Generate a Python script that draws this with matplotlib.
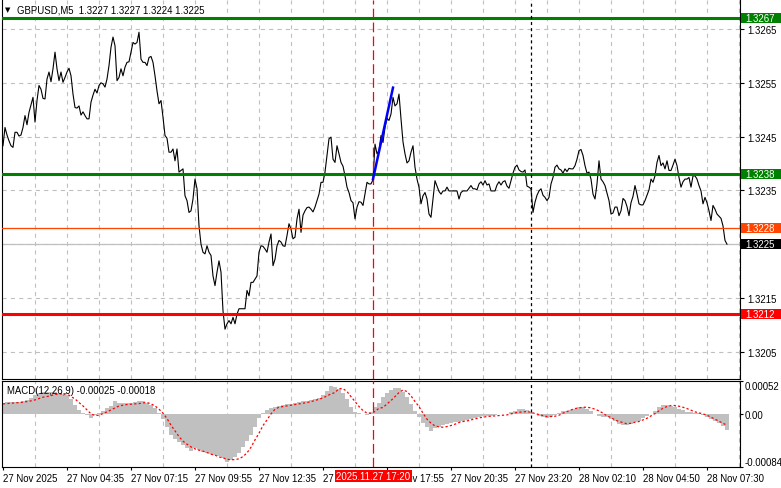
import matplotlib
matplotlib.use("Agg")
import matplotlib.pyplot as plt
from matplotlib.patches import Rectangle
from matplotlib.transforms import blended_transform_factory

plt.rcParams['font.family'] = ['Liberation Sans', 'DejaVu Sans']
plt.rcParams['lines.scale_dashes'] = False

# ---------------- data ----------------
chart_title = "GBPUSD,M5  1.3227 1.3227 1.3224 1.3225"
macd_title = "MACD(12,26,9) -0.00025 -0.00018"

close = [
    1.32433, 1.32467, 1.32453, 1.32442, 1.32433, 1.32430, 1.32458, 1.32458, 1.32451, 1.32453,
    1.32467, 1.32489, 1.32472, 1.32495, 1.32509, 1.32523, 1.32477, 1.32517, 1.32545, 1.32538,
    1.32521, 1.32520, 1.32557, 1.32570, 1.32552, 1.32576, 1.32607, 1.32576, 1.32554, 1.32570,
    1.32551, 1.32560, 1.32570, 1.32577, 1.32563, 1.32529, 1.32504, 1.32503, 1.32507, 1.32490,
    1.32496, 1.32489, 1.32483, 1.32483, 1.32514, 1.32527, 1.32538, 1.32531, 1.32545, 1.32550,
    1.32548, 1.32542, 1.32557, 1.32582, 1.32616, 1.32635, 1.32619, 1.32554, 1.32560, 1.32576,
    1.32563, 1.32579, 1.32588, 1.32589, 1.32607, 1.32625, 1.32622, 1.32625, 1.32644, 1.32594,
    1.32588, 1.32588, 1.32582, 1.32597, 1.32599, 1.32588, 1.32563, 1.32535, 1.32511, 1.32517,
    1.32486, 1.32452, 1.32447, 1.32421, 1.32421, 1.32427, 1.32405, 1.32427, 1.32384, 1.32387,
    1.32390, 1.32340, 1.32331, 1.32309, 1.32312, 1.32334, 1.32371, 1.32353, 1.32284, 1.32250,
    1.32235, 1.32232, 1.32247, 1.32235, 1.32229, 1.32191, 1.32173, 1.32198, 1.32219, 1.32198,
    1.32126, 1.32092, 1.32102, 1.32108, 1.32102, 1.32114, 1.32102, 1.32120, 1.32130, 1.32130,
    1.32130, 1.32130, 1.32164, 1.32154, 1.32179, 1.32179, 1.32185, 1.32191, 1.32235, 1.32247,
    1.32246, 1.32241, 1.32235, 1.32254, 1.32269, 1.32210, 1.32222, 1.32247, 1.32257, 1.32254,
    1.32247, 1.32246, 1.32266, 1.32288, 1.32278, 1.32260, 1.32263, 1.32297, 1.32315, 1.32272,
    1.32304, 1.32312, 1.32318, 1.32319, 1.32315, 1.32310, 1.32319, 1.32331, 1.32343, 1.32365,
    1.32365, 1.32384, 1.32415, 1.32446, 1.32449, 1.32408, 1.32402, 1.32433, 1.32418, 1.32402,
    1.32395, 1.32377, 1.32356, 1.32346, 1.32331, 1.32327, 1.32297, 1.32319, 1.32329, 1.32328,
    1.32322, 1.32343, 1.32365, 1.32362, 1.32362, 1.32370, 1.32436, 1.32418, 1.32424, 1.32452,
    1.32439, 1.32467, 1.32484, 1.32480, 1.32492, 1.32523, 1.32507, 1.32511, 1.32529, 1.32483,
    1.32440, 1.32418, 1.32401, 1.32405, 1.32421, 1.32433, 1.32393, 1.32371, 1.32356, 1.32325,
    1.32340, 1.32346, 1.32334, 1.32306, 1.32300, 1.32334, 1.32368, 1.32358, 1.32348, 1.32343,
    1.32349, 1.32349, 1.32356, 1.32349, 1.32349, 1.32349, 1.32349, 1.32349, 1.32334, 1.32346,
    1.32349, 1.32349, 1.32349, 1.32354, 1.32359, 1.32353, 1.32353, 1.32351, 1.32362, 1.32366,
    1.32360, 1.32368, 1.32360, 1.32362, 1.32349, 1.32349, 1.32349, 1.32360, 1.32366, 1.32360,
    1.32366, 1.32368, 1.32358, 1.32354, 1.32368, 1.32382, 1.32393, 1.32397, 1.32388, 1.32385,
    1.32384, 1.32388, 1.32358, 1.32356, 1.32353, 1.32309, 1.32328, 1.32341, 1.32349, 1.32353,
    1.32341, 1.32337, 1.32331, 1.32337, 1.32362, 1.32374, 1.32393, 1.32397, 1.32390, 1.32388,
    1.32382, 1.32390, 1.32385, 1.32391, 1.32390, 1.32390, 1.32396, 1.32408, 1.32424, 1.32426,
    1.32415, 1.32396, 1.32382, 1.32384, 1.32371, 1.32343, 1.32334, 1.32362, 1.32405, 1.32371,
    1.32366, 1.32359, 1.32345, 1.32331, 1.32306, 1.32308, 1.32319, 1.32319, 1.32303, 1.32312,
    1.32335, 1.32331, 1.32320, 1.32303, 1.32327, 1.32339, 1.32359, 1.32343, 1.32325, 1.32323,
    1.32323, 1.32331, 1.32341, 1.32351, 1.32371, 1.32365, 1.32377, 1.32402, 1.32415, 1.32396,
    1.32401, 1.32390, 1.32405, 1.32387, 1.32387, 1.32397, 1.32408, 1.32396, 1.32374, 1.32356,
    1.32366, 1.32371, 1.32371, 1.32374, 1.32356, 1.32377, 1.32377, 1.32371, 1.32359, 1.32349,
    1.32325, 1.32337, 1.32327, 1.32312, 1.32294, 1.32322, 1.32315, 1.32306, 1.32302, 1.32298,
    1.32284, 1.32257, 1.32250,
]

# MACD values, one reading every 2 bars
macd_step = 2
macd_hist = [
    0.000179, 0.000184, 0.000195, 0.000195, 0.000195, 0.000206, 0.000221, 0.000248, 0.000300, 0.000337,
    0.000353, 0.000353, 0.000353, 0.000343, 0.000327, 0.000316, 0.000295, 0.000232, 0.000142, 0.000063,
    0.000021, -0.000021, -0.000063, -0.000016, 0.000016, 0.000053, 0.000090, 0.000126, 0.000211, 0.000179,
    0.000169, 0.000169, 0.000174, 0.000184, 0.000211, 0.000200, 0.000179, 0.000142, 0.000090, 0.000011,
    -0.000084, -0.000200, -0.000327, -0.000400, -0.000443, -0.000485, -0.000532, -0.000585, -0.000543, -0.000564,
    -0.000596, -0.000622, -0.000638, -0.000653, -0.000669, -0.000701, -0.000754, -0.000733, -0.000675, -0.000611,
    -0.000522, -0.000432, -0.000332, -0.000211, -0.000058, 0.000021, 0.000063, 0.000095, 0.000116, 0.000126,
    0.000142, 0.000158, 0.000163, 0.000174, 0.000190, 0.000200, 0.000211, 0.000221, 0.000237, 0.000248,
    0.000300, 0.000369, 0.000437, 0.000432, 0.000390, 0.000332, 0.000237, 0.000116, 0.000037, 0.000016,
    0.000000, -0.000016, 0.000026, 0.000105, 0.000179, 0.000264, 0.000327, 0.000379, 0.000411, 0.000411,
    0.000353, 0.000274, 0.000158, 0.000053, -0.000053, -0.000137, -0.000211, -0.000264, -0.000227, -0.000200,
    -0.000179, -0.000158, -0.000142, -0.000132, -0.000121, -0.000111, -0.000095, -0.000079, -0.000063, -0.000047,
    -0.000037, -0.000032, -0.000026, -0.000021, -0.000005, 0.000000, 0.000005, 0.000026, 0.000053, 0.000074,
    0.000074, 0.000063, 0.000026, -0.000005, -0.000026, -0.000042, -0.000069, -0.000053, -0.000021, 0.000016,
    0.000042, 0.000053, 0.000069, 0.000084, 0.000111, 0.000111, 0.000084, 0.000042, 0.000000, -0.000026,
    -0.000042, -0.000053, -0.000079, -0.000116, -0.000163, -0.000179, -0.000174, -0.000153, -0.000126, -0.000105,
    -0.000069, -0.000037, 0.000005, 0.000053, 0.000105, 0.000137, 0.000142, 0.000126, 0.000111, 0.000084,
    0.000058, 0.000037, 0.000026, 0.000016, 0.000011, -0.000016, -0.000042, -0.000079, -0.000116, -0.000148,
    -0.000190, -0.000250,
]
macd_signal = [
    0.000158, 0.000163, 0.000169, 0.000174, 0.000179, 0.000184, 0.000195, 0.000206, 0.000221, 0.000242,
    0.000264, 0.000274, 0.000290, 0.000306, 0.000316, 0.000316, 0.000316, 0.000274, 0.000237, 0.000179,
    0.000126, 0.000063, 0.000000, -0.000026, -0.000021, 0.000005, 0.000032, 0.000063, 0.000095, 0.000126,
    0.000137, 0.000148, 0.000153, 0.000158, 0.000163, 0.000174, 0.000179, 0.000158, 0.000126, 0.000074,
    0.000011, -0.000074, -0.000179, -0.000269, -0.000359, -0.000432, -0.000480, -0.000522, -0.000553, -0.000574,
    -0.000590, -0.000611, -0.000638, -0.000653, -0.000680, -0.000696, -0.000717, -0.000727, -0.000722, -0.000711,
    -0.000675, -0.000617, -0.000527, -0.000411, -0.000306, -0.000184, -0.000095, 0.000000, 0.000074, 0.000105,
    0.000116, 0.000126, 0.000137, 0.000148, 0.000158, 0.000169, 0.000179, 0.000195, 0.000211, 0.000232,
    0.000253, 0.000285, 0.000316, 0.000337, 0.000400, 0.000400, 0.000353, 0.000274, 0.000195, 0.000116,
    0.000053, 0.000011, 0.000011, 0.000037, 0.000090, 0.000100, 0.000158, 0.000211, 0.000274, 0.000337,
    0.000379, 0.000353, 0.000285, 0.000195, 0.000116, 0.000011, -0.000084, -0.000148, -0.000190, -0.000206,
    -0.000211, -0.000200, -0.000184, -0.000163, -0.000137, -0.000121, -0.000111, -0.000095, -0.000079, -0.000063,
    -0.000053, -0.000042, -0.000037, -0.000032, -0.000026, -0.000021, -0.000016, 0.000000, 0.000016, 0.000026,
    0.000032, 0.000037, 0.000026, 0.000005, -0.000011, -0.000026, -0.000042, -0.000042, -0.000037, -0.000021,
    0.000011, 0.000037, 0.000063, 0.000084, 0.000095, 0.000105, 0.000105, 0.000095, 0.000074, 0.000047,
    0.000011, -0.000032, -0.000058, -0.000095, -0.000121, -0.000137, -0.000158, -0.000148, -0.000132, -0.000121,
    -0.000095, -0.000069, -0.000032, 0.000005, 0.000047, 0.000090, 0.000116, 0.000132, 0.000132, 0.000121,
    0.000105, 0.000084, 0.000058, 0.000032, 0.000016, 0.000000, -0.000021, -0.000053, -0.000084, -0.000116,
    -0.000148, -0.000180,
]

time_label_bars = [0, 32, 64, 96, 128, 160, 192, 224, 256, 288, 320, 352]
time_labels = ["27 Nov 2025", "27 Nov 04:35", "27 Nov 07:15", "27 Nov 09:55", "27 Nov 12:35",
               "27 Nov 15:15", "27 Nov 17:55", "27 Nov 20:35", "27 Nov 23:20", "28 Nov 02:10",
               "28 Nov 04:50", "28 Nov 07:30"]
price_ticks = [1.3205, 1.3215, 1.3225, 1.3235, 1.3245, 1.3255, 1.3265]
macd_ticks = [-0.00084, 0.0, 0.00052]
macd_tick_labels = ["-0.00084", "0.00", "0.00052"]

cursor_bar = 185
cursor_label = "2025.11.27 17:20"
day_separator_bar = 264
trend_bars = [185, 195]
trend_prices = [1.32371, 1.32541]

level_green_top = 1.3267
level_green_mid = 1.3238
level_orange = 1.3228
level_red = 1.3212
bid_price = 1.3225

# ---------------- layout ----------------
W, H = 781, 489
fig = plt.figure(figsize=(W / 100, H / 100), dpi=100)
fig.patch.set_facecolor('white')


def px_axes(x0, y0, x1, y1):
    return fig.add_axes([x0 / W, 1 - y1 / H, (x1 - x0) / W, (y1 - y0) / H])


ax = px_axes(2, 1, 740, 380)
ax2 = px_axes(2, 382, 740, 468)

GRID = '#c0c0c0'
FS = 6.9
xmin, xmax = -0.5, 368.5
ymin, ymax = 1.319994, 1.327039

for a in (ax, ax2):
    a.set_xlim(xmin, xmax)
    a.set_facecolor('white')
    for s in a.spines.values():
        s.set_color('black')
        s.set_linewidth(0.8)
    a.set_xticks(range(16, 369, 16), minor=True)
    a.grid(which='minor', axis='x', color=GRID, linestyle=(0, (3, 3)), linewidth=0.8)
    a.tick_params(which='minor', length=0)
    a.set_axisbelow(True)

ax.spines['top'].set_visible(False)

# main price panel
ax.set_ylim(ymin, ymax)
ax.yaxis.tick_right()
ax.set_yticks(price_ticks)
ax.set_yticklabels([f"{v:.4f}" if abs(v - bid_price) > 1e-6 else "" for v in price_ticks])
ax.tick_params(axis='y', which='major', length=3, width=0.8, pad=2, labelsize=FS, colors='black')
ax.set_xticks([])
ax.grid(which='major', axis='y', color=GRID, linestyle=(0, (3, 3)), linewidth=0.8)

bars = list(range(len(close)))
ax.plot(bars, close, color='black', linewidth=0.8, zorder=3)

ax.axhline(bid_price, color='#c0c0c0', linewidth=0.9, zorder=2)
ax.axhline(level_orange, color='#ff4500', linewidth=0.9, zorder=4)
ax.axhline(level_green_top, color='#008000', linewidth=2.2, zorder=4)
ax.axhline(level_green_mid, color='#008000', linewidth=2.2, zorder=4)
ax.axhline(level_red, color='#ff0000', linewidth=2.2, zorder=4)

ax.plot(trend_bars, trend_prices, color='#0000ff', linewidth=1.8, zorder=6)

for a in (ax, ax2):
    a.axvline(cursor_bar, color='#ff0000', linewidth=0.9, linestyle=(0, (7, 3)), zorder=5)
    a.axvline(day_separator_bar, color='black', linewidth=0.9, linestyle=(0, (2.2, 2.2)), zorder=5)

# right side price boxes
btrans = blended_transform_factory(ax.transAxes, ax.transData)
px = (ymax - ymin) / 379.0
for val, fc in [(level_green_top, '#008000'), (level_green_mid, '#008000'),
                (level_orange, '#ff4500'), (bid_price, '#000000'), (level_red, '#ff0000')]:
    ax.add_patch(Rectangle((1.0014, val - 5.2 * px), 0.06, 10.4 * px, transform=btrans,
                           facecolor=fc, edgecolor='none', clip_on=False, zorder=10))
    ax.text(1.0072, val, f"{val:.4f}", transform=btrans, color='white', fontsize=FS,
            va='center', ha='left', zorder=11, clip_on=False)

# title
ax.text(0.0045, 0.975, "\u25bc", transform=ax.transAxes, fontsize=5, family='DejaVu Sans',
        va='center', ha='left', color='black')
ax.text(0.020, 0.975, chart_title, transform=ax.transAxes, fontsize=FS,
        va='center', ha='left', color='black')

# MACD panel
ax2.set_ylim(-0.00084, 0.00052)
mx = [k * macd_step for k in range(len(macd_hist))]
ax2.bar(mx, macd_hist, width=macd_step, align='center', color='#c0c0c0', linewidth=0, zorder=2)
ax2.plot(mx, macd_signal, color='#ff0000', linewidth=0.9, linestyle=(0, (1.6, 1.6)), zorder=3)
ax2.yaxis.tick_right()
ax2.set_yticks(macd_ticks)
ax2.set_yticklabels(macd_tick_labels)
ax2.tick_params(axis='y', length=2, width=0.8, pad=1, labelsize=FS, colors='black')
ylabs = ax2.get_yticklabels()
ylabs[0].set_va('bottom')
ylabs[2].set_va('top')
ax2.text(0.007, 0.9, macd_title, transform=ax2.transAxes, fontsize=FS, va='center', ha='left')

ax2.set_xticks(time_label_bars)
ax2.set_xticklabels(time_labels)
ax2.tick_params(axis='x', which='major', length=2, width=0.8, pad=2, labelsize=FS)
for lbl in ax2.get_xticklabels():
    lbl.set_ha('left')

# cursor time box
ctrans = blended_transform_factory(ax2.transData, ax2.transAxes)
ax2.add_patch(Rectangle((cursor_bar - 19.0, -0.174), 38.5, 0.139, transform=ctrans,
                        facecolor='#ff0000', edgecolor='none', clip_on=False, zorder=10))
ax2.text(cursor_bar + 0.2, -0.103, cursor_label, transform=ctrans, color='white', fontsize=FS,
         va='center', ha='center', zorder=11, clip_on=False)

fig.savefig("out.png", dpi=100, facecolor='white')
